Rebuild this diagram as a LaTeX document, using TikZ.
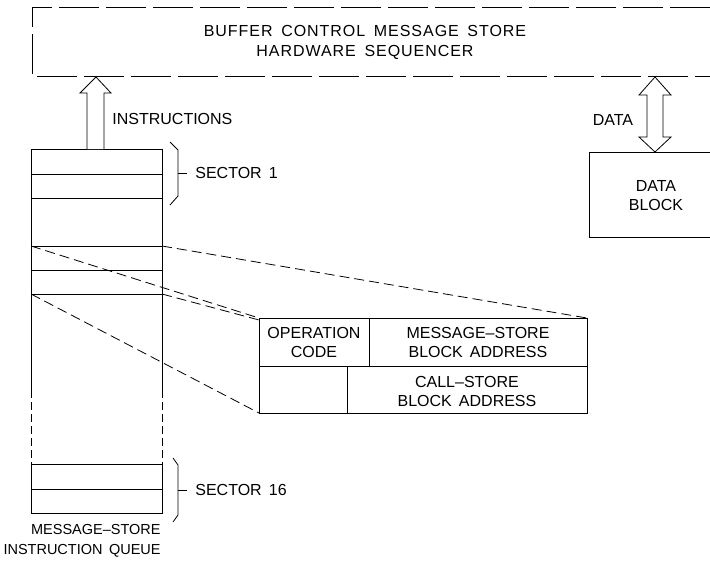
\documentclass[tikz,border=0pt]{standalone}
\usepackage{fontspec}
\setmainfont{Liberation Sans}[WordSpace=1.6]
\usetikzlibrary{calc}

\tikzset{
  lbl/.style={font=\fontsize{16}{19}\selectfont,inner sep=0pt,align=center},
  seqdash/.style={line width=0.8pt,dash pattern=on 40pt off 7pt},
  linkdash/.style={line width=0.8pt,dash pattern=on 10pt off 5pt},
}

\begin{document}
\begin{tikzpicture}[x=1pt,y=-1pt,line cap=butt,line join=miter,line width=0.8pt]
  \useasboundingbox (0,0) rectangle (710,560);
  % sequencer (open on the right)
  \draw[seqdash] (710,7) -- (32,7) -- (32,76) -- (710,76);
  \node[lbl,font=\fontsize{16}{20}\selectfont\addfontfeature{LetterSpace=6}] (seq) at (365,42)
    {BUFFER CONTROL MESSAGE STORE\\HARDWARE SEQUENCER};
  % instruction queue
  \coordinate (Qtl) at (31,149);
  \coordinate (Qtr) at (162,149);
  \coordinate (Ra) at (31,246);
  \coordinate (Rb) at (162,246);
  \coordinate (Rc) at (31,294);
  \coordinate (Rd) at (162,294);
  \draw (31,390) -- (Qtl) -- (Qtr) -- (162,390);
  \foreach \y in {174,198,246,270,294}
    \draw (31,\y) -- (162,\y);
  \draw[dash pattern=on 8pt off 4pt] (31,390) -- (31,464);
  \draw[dash pattern=on 8pt off 4pt] (162,390) -- (162,464);
  \draw (31,464) rectangle (162,513);
  \draw (31,489) -- (162,489);
  \node[lbl,font=\fontsize{14.5}{20}\selectfont,align=right,anchor=north east] (queue) at (161,524)
    {MESSAGE\textendash STORE\\INSTRUCTION QUEUE};
  % instructions arrow
  \draw[fill=white] (87,149) -- (87,93) -- (80,93) -- (96,77) -- (111,93) -- (104,93) -- (104,149);
  \node[lbl,anchor=west] (instr) at (112,119) {INSTRUCTIONS};
  % sector braces
  \draw (170,142) -- (178,150) -- (178,196) -- (170,205);
  \draw (178,173) -- (187,173);
  \node[lbl,anchor=west] (sec1) at (195,173) {SECTOR 1};
  \draw (173,458) -- (178,465) -- (178,515) -- (173,522);
  \draw (178,490) -- (187,490);
  \node[lbl,anchor=west] (sec16) at (195,490) {SECTOR 16};
  % instruction format
  \coordinate (Ftl) at (259,318);
  \coordinate (Ftr) at (587,318);
  \coordinate (Fbl) at (259,413);
  \draw (Ftl) rectangle (587,413);
  \draw (259,366) -- (587,366);
  \draw (369,318) -- (369,366);
  \draw (347,366) -- (347,413);
  \node[lbl] (opc) at (314,342) {OPERATION\\CODE};
  \node[lbl] (msa) at (478,342) {MESSAGE\textendash STORE\\BLOCK ADDRESS};
  \node[lbl] (csa) at (467,391) {CALL\textendash STORE\\BLOCK ADDRESS};
  \draw[linkdash] (Ra) -- (Ftl);
  \draw[linkdash] (Rb) -- (Ftr);
  \draw[linkdash] (Rd) -- ($(Ftl)+(0,2)$);
  \draw[linkdash] (Rc) -- (Fbl);
  % data block and data arrow
  \draw (710,152) -- (589,152) -- (589,237) -- (710,237);
  \node[lbl] (dblk) at (656,196) {DATA\\BLOCK};
  \draw[fill=white] (655,77) -- (671,95) -- (663,95) -- (663,137) -- (671,137) -- (655,152)
    -- (639,137) -- (647,137) -- (647,95) -- (639,95) -- cycle;
  \node[lbl] (data) at (613,120) {DATA};
\end{tikzpicture}
\end{document}
